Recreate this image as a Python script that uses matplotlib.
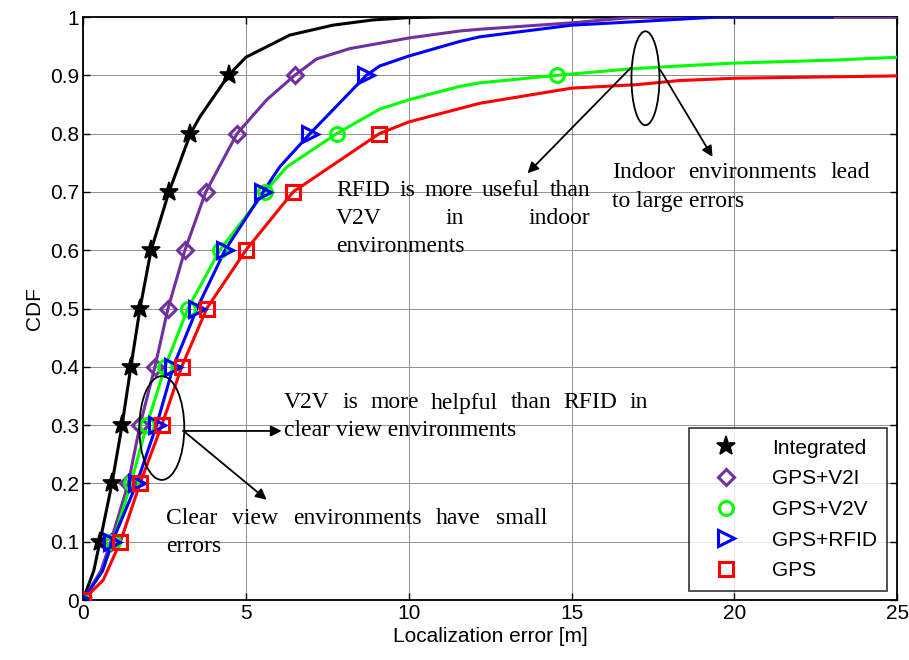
import numpy as np
import matplotlib
matplotlib.use('Agg')
import matplotlib.pyplot as plt
from matplotlib.patches import Ellipse

# CDF levels where markers are placed
levels = [0.0, 0.1, 0.2, 0.3, 0.4, 0.5, 0.6, 0.7, 0.8, 0.9]

# x positions where each curve crosses the marked levels
int_mx = [0.0, 0.52, 0.89, 1.2, 1.47, 1.75, 2.09, 2.64, 3.3, 4.47]
v2i_mx = [0.0, 0.85, 1.39, 1.75, 2.21, 2.61, 3.13, 3.77, 4.73, 6.5]
v2v_mx = [0.0, 0.92, 1.47, 1.96, 2.52, 3.22, 4.2, 5.58, 7.79, 14.54]
rfid_mx = [0.0, 0.9, 1.65, 2.26, 2.77, 3.5, 4.36, 5.53, 6.97, 8.7]
gps_mx = [0.0, 1.15, 1.75, 2.42, 3.03, 3.8, 5.0, 6.45, 9.1]

# extra points of each curve between / after the marked levels
int_tx = [0.33, 3.59, 5.0, 6.35, 7.67, 8.9, 10.0, 11.0, 25.0]
int_ty = [0.05, 0.829, 0.931, 0.969, 0.986, 0.995, 0.999, 1.0, 1.0]

v2i_tx = [0.55, 5.64, 7.17, 8.2, 9.11, 10.0, 11.56, 12.18, 15.0, 17.0, 25.0]
v2i_ty = [0.05, 0.858, 0.928, 0.946, 0.955, 0.964, 0.976, 0.979, 0.99, 1.0, 1.0]

v2v_tx = [0.6, 6.26, 9.11, 10.0, 11.56, 12.18, 16.8, 18.3, 20.0, 23.0, 25.0]
v2v_ty = [0.05, 0.743, 0.842, 0.858, 0.881, 0.887, 0.911, 0.916, 0.921, 0.926, 0.931]

rfid_tx = [0.6, 6.04, 9.11, 10.0, 11.56, 12.18, 15.0, 17.3, 19.5, 23.0]
rfid_ty = [0.05, 0.743, 0.916, 0.933, 0.958, 0.966, 0.986, 0.993, 1.0, 1.0]

gps_tx = [0.62, 10.0, 12.18, 15.0, 17.0, 18.3, 20.0, 25.0]
gps_ty = [0.034, 0.82, 0.852, 0.878, 0.884, 0.891, 0.895, 0.899]

names = ['Integrated', 'GPS+V2I', 'GPS+V2V', 'GPS+RFID', 'GPS']
colors = ['black', '#7030A0', '#00FF00', '#0000FF', '#FF0000']
markers = ['*', 'D', 'o', '>', 's']
msizes = [14, 8, 10, 11, 10]

series = [(int_mx, int_tx, int_ty), (v2i_mx, v2i_tx, v2i_ty), (v2v_mx, v2v_tx, v2v_ty),
          (rfid_mx, rfid_tx, rfid_ty), (gps_mx, gps_tx, gps_ty)]

serif = ['Liberation Serif', 'DejaVu Serif']
plt.rcParams['font.family'] = ['Liberation Sans', 'DejaVu Sans']

fig = plt.figure(figsize=(9.09, 6.6), dpi=100)
ax = fig.add_axes([0.0913, 0.0909, 0.8957, 0.8833])

for (mx, tx, ty), name, c, m, ms in zip(series, names, colors, markers, msizes):
    my = levels[:len(mx)]
    x = np.concatenate([mx, tx])
    y = np.concatenate([my, ty])
    order = np.lexsort((y, x))
    ax.plot(x[order], y[order], color=c, lw=2.2, zorder=3)
    mk = dict(marker=m, ms=ms, mfc='none' if m != '*' else c, mec=c,
              mew=2.2 if m != '*' else 1.2)
    ax.plot(mx, my, ls='none', zorder=4, **mk)
    ax.plot([], [], ls='none', label=name, **mk)

ax.set_xlim(0, 25)
ax.set_ylim(0, 1)
ax.set_xticks([0, 5, 10, 15, 20, 25])
ax.set_yticks(np.arange(0, 1.01, 0.1))
ax.set_yticklabels(['0', '0.1', '0.2', '0.3', '0.4', '0.5', '0.6', '0.7', '0.8', '0.9', '1'])
ax.tick_params(direction='in', top=True, right=True, labelsize=15, length=5, width=1, pad=3)
ax.grid(True, color='#909090', lw=0.7)
for s in ax.spines.values():
    s.set_linewidth(1.3)
ax.set_xlabel('Localization error [m]', fontsize=15, labelpad=3)
ax.set_ylabel('CDF', fontsize=15, labelpad=4)

leg = ax.legend(loc='lower right', fontsize=15, frameon=True, fancybox=False,
                edgecolor='black', borderpad=0.5, labelspacing=0.56,
                handlelength=2.6, handletextpad=0.9, borderaxespad=0,
                bbox_to_anchor=(0.988, 0.016))
leg.get_frame().set_linewidth(1.2)

# annotation ellipses and arrows
ax.add_patch(Ellipse((2.42, 0.295), 1.38, 0.178, fill=False, ec='black', lw=1.3, zorder=5))
ax.add_patch(Ellipse((17.27, 0.895), 0.86, 0.161, fill=False, ec='black', lw=1.3, zorder=5))
arrow = dict(arrowstyle='-|>', color='black', lw=1.3, mutation_scale=16, shrinkA=0, shrinkB=0)
ax.annotate('', xy=(6.1, 0.290), xytext=(3.07, 0.290), arrowprops=arrow)
ax.annotate('', xy=(5.64, 0.172), xytext=(3.13, 0.288), arrowprops=arrow)
ax.annotate('', xy=(13.65, 0.732), xytext=(16.84, 0.914), arrowprops=arrow)
ax.annotate('', xy=(19.33, 0.760), xytext=(17.73, 0.909), arrowprops=arrow)

renderer = fig.canvas.get_renderer()


def text_line(words, x0, x1, y, justify=True, size=17):
    """Draw one line of words spread between two pixel positions (figure px)."""
    to_ax = ax.transData.inverted()
    if not justify or len(words) == 1:
        xd, yd = to_ax.transform((x0, y))
        ax.text(xd, yd, ' '.join(words), family=serif, fontsize=size, va='center', ha='left')
        return
    arts = []
    for w in words:
        t = ax.text(0, 0, w, family=serif, fontsize=size, va='center', ha='left')
        arts.append(t)
    widths = [t.get_window_extent(renderer).width for t in arts]
    gap = (x1 - x0 - sum(widths)) / (len(words) - 1)
    xp = x0
    for t, w in zip(arts, widths):
        xd, yd = to_ax.transform((xp, y))
        t.set_position((xd, yd))
        xp += w + gap


H = 660
text_line(['V2V', 'is', 'more', 'helpful', 'than', 'RFID', 'in'], 284, 648, H - 403)
text_line(['clear', 'view', 'environments'], 284, 648, H - 431, justify=False)
text_line(['Clear', 'view', 'environments', 'have', 'small'], 166, 547, H - 518)
text_line(['errors'], 166, 547, H - 546, justify=False)
text_line(['RFID', 'is', 'more', 'useful', 'than'], 336, 590, H - 191)
text_line(['V2V', 'in', 'indoor'], 336, 590, H - 219)
text_line(['environments'], 336, 590, H - 247, justify=False)
text_line(['Indoor', 'environments', 'lead'], 612, 870, H - 172)
text_line(['to', 'large', 'errors'], 612, 870, H - 201, justify=False)

fig.savefig('out.png', dpi=100)
